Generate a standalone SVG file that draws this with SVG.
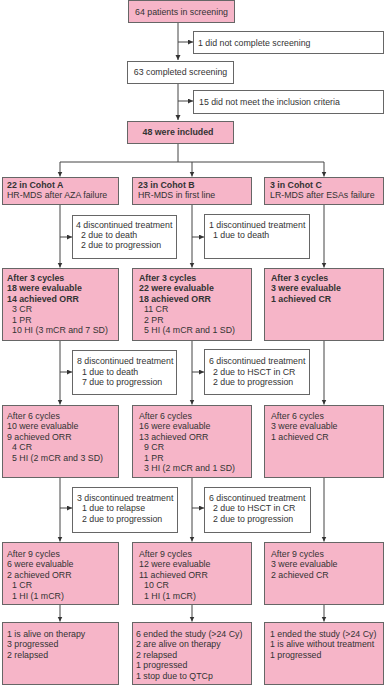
<svg xmlns="http://www.w3.org/2000/svg" width="385" height="685" viewBox="0 0 385 685">
<defs>
<marker id="ah" markerWidth="6" markerHeight="6" refX="5" refY="2.5" orient="auto" markerUnits="userSpaceOnUse"><path d="M0,0 L5,2.5 L0,5 z" fill="#333"/></marker>
<style>
.p{fill:#F6B5C8;stroke:#666;stroke-width:1}
.w{fill:#fff;stroke:#666;stroke-width:1}
text{font-family:"Liberation Sans",Arial,Helvetica,sans-serif;font-size:8.8px;fill:#333}
.b{font-weight:bold}
.c{text-anchor:middle}
.ln{fill:none;stroke:#444;stroke-width:1}
.ar{fill:none;stroke:#444;stroke-width:1;marker-end:url(#ah)}
</style>
</defs>
<rect width="385" height="685" fill="#fff"/>
<g id="connectors">
<path class="ar" d="M178,22.5 V60"/>
<path class="ar" d="M178,42 H193"/>
<path class="ar" d="M178,83.5 V120"/>
<path class="ar" d="M178,101 H193"/>
<path class="ln" d="M178,143.5 V162 M60,162 H324"/>
<path class="ar" d="M60,162 V176.5"/>
<path class="ar" d="M192,162 V176.5"/>
<path class="ar" d="M324,162 V176.5"/>
<path class="ar" d="M60,204.5 V267.5"/>
<path class="ar" d="M60,237 H72"/>
<path class="ar" d="M192,204.5 V267.5"/>
<path class="ar" d="M192,237 H204"/>
<path class="ar" d="M324,204.5 V267.5"/>
<path class="ar" d="M60,340.5 V404.5"/>
<path class="ar" d="M60,372 H72"/>
<path class="ar" d="M192,340.5 V404.5"/>
<path class="ar" d="M192,372 H204"/>
<path class="ar" d="M324,340.5 V404.5"/>
<path class="ar" d="M60,477.5 V541.5"/>
<path class="ar" d="M60,508 H72"/>
<path class="ar" d="M192,477.5 V541.5"/>
<path class="ar" d="M192,508 H204"/>
<path class="ar" d="M324,477.5 V541.5"/>
<path class="ar" d="M60,604.5 V621.5"/>
<path class="ar" d="M192,604.5 V621.5"/>
<path class="ar" d="M324,604.5 V621.5"/>
</g>
<g id="screening"><rect class="p" x="128.5" y="0.5" width="106" height="22"/><text class="c" x="181.5" y="14.5">64 patients in screening</text></g>
<g id="notcomplete"><rect class="w" x="193.5" y="31.5" width="190" height="22"/><text x="198" y="45.5">1 did not complete screening</text></g>
<g id="completed"><rect class="w" x="127.5" y="61.5" width="106" height="22"/><text class="c" x="180.5" y="74.5">63 completed screening</text></g>
<g id="notmeet"><rect class="w" x="193.5" y="90.5" width="190" height="23"/><text x="199" y="104.5">15 did not meet the inclusion criteria</text></g>
<g id="included"><rect class="p" x="127.5" y="121.5" width="106" height="22"/><text class="c b" x="178" y="135">48 were included</text></g>

<g id="cohortA"><rect class="p" x="2.5" y="177.5" width="116" height="27"/><text class="b" x="7" y="187.5">22 in Cohot A</text><text x="7" y="198">HR-MDS after AZA failure</text></g>
<g id="cohortB"><rect class="p" x="132.5" y="177.5" width="119" height="27"/><text class="b" x="138" y="187.5">23 in Cohot B</text><text x="138" y="198">HR-MDS in first line</text></g>
<g id="cohortC"><rect class="p" x="264.5" y="177.5" width="119" height="27"/><text class="b" x="270" y="187.5">3 in Cohot C</text><text x="270" y="198">LR-MDS after ESAs failure</text></g>

<g id="discA1"><rect class="w" x="72.5" y="215.5" width="104" height="43"/><text x="76" y="227.5">4 discontinued treatment</text><text x="81" y="238">2 due to death</text><text x="81" y="248.4">2 due to progression</text></g>
<g id="discB1"><rect class="w" x="204.5" y="214.5" width="105" height="44"/><text x="209" y="227.5">1 discontinued treatment</text><text x="213" y="238">1 due to death</text></g>

<g id="a3"><rect class="p" x="2.5" y="268.5" width="116" height="72"/><text class="b" x="7" y="281">After 3 cycles</text><text class="b" x="7" y="291.4">18 were evaluable</text><text class="b" x="7" y="301.8">14 achieved ORR</text><text x="12" y="312.2">3 CR</text><text x="12" y="322.6">1 PR</text><text x="12" y="333">10 HI (3 mCR and 7 SD)</text></g>
<g id="b3"><rect class="p" x="132.5" y="268.5" width="119" height="72"/><text class="b" x="139" y="281">After 3 cycles</text><text class="b" x="139" y="291.4">22 were evaluable</text><text class="b" x="139" y="301.8">18 achieved ORR</text><text x="144" y="312.2">11 CR</text><text x="144" y="322.6">2 PR</text><text x="144" y="333">5 HI (4 mCR and 1 SD)</text></g>
<g id="c3"><rect class="p" x="264.5" y="268.5" width="119" height="72"/><text class="b" x="271" y="281">After 3 cycles</text><text class="b" x="271" y="291.4">3 were evaluable</text><text class="b" x="271" y="301.8">1 achieved CR</text></g>

<g id="discA2"><rect class="w" x="72.5" y="350.5" width="104" height="44"/><text x="77" y="364">8 discontinued treatment</text><text x="82" y="374.6">1 due to death</text><text x="82" y="385">7 due to progression</text></g>
<g id="discB2"><rect class="w" x="204.5" y="349.5" width="105" height="45"/><text x="209" y="364">6 discontinued treatment</text><text x="213" y="374.6">2 due to HSCT in CR</text><text x="213" y="385">2 due to progression</text></g>

<g id="a6"><rect class="p" x="2.5" y="405.5" width="116" height="72"/><text x="7" y="419">After 6 cycles</text><text x="7" y="429.4">10 were evaluable</text><text x="7" y="439.8">9 achieved ORR</text><text x="12" y="450.2">4 CR</text><text x="12" y="460.6">5 HI (2 mCR and 3 SD)</text></g>
<g id="b6"><rect class="p" x="132.5" y="405.5" width="119" height="72"/><text x="139" y="419">After 6 cycles</text><text x="139" y="429.4">16 were evaluable</text><text x="139" y="439.8">13 achieved ORR</text><text x="144" y="450.2">9 CR</text><text x="144" y="460.6">1 PR</text><text x="144" y="471">3 HI (2 mCR and 1 SD)</text></g>
<g id="c6"><rect class="p" x="264.5" y="405.5" width="119" height="72"/><text x="271" y="419">After 6 cycles</text><text x="271" y="429.4">3 were evaluable</text><text x="271" y="439.8">1 achieved CR</text></g>

<g id="discA3"><rect class="w" x="72.5" y="487.5" width="105" height="45"/><text x="77" y="501">3 discontinued treatment</text><text x="82" y="511.4">1 due to relapse</text><text x="82" y="521.8">2 due to progression</text></g>
<g id="discB3"><rect class="w" x="204.5" y="487.5" width="106" height="45"/><text x="209" y="501">6 discontinued treatment</text><text x="213" y="511.4">2 due to HSCT in CR</text><text x="213" y="521.8">2 due to progression</text></g>

<g id="a9"><rect class="p" x="2.5" y="542.5" width="116" height="62"/><text x="7" y="557">After 9 cycles</text><text x="7" y="567.4">6 were evaluable</text><text x="7" y="577.8">2 achieved ORR</text><text x="12" y="588.2">1 CR</text><text x="12" y="598.6">1 HI (1 mCR)</text></g>
<g id="b9"><rect class="p" x="132.5" y="542.5" width="119" height="62"/><text x="139" y="557">After 9 cycles</text><text x="139" y="567.4">12 were evaluable</text><text x="139" y="577.8">11 achieved ORR</text><text x="144" y="588.2">10 CR</text><text x="144" y="598.6">1 HI (1 mCR)</text></g>
<g id="c9"><rect class="p" x="264.5" y="542.5" width="119" height="62"/><text x="271" y="557">After 9 cycles</text><text x="271" y="567.4">3 were evaluable</text><text x="271" y="577.8">2 achieved CR</text></g>

<g id="aEnd"><rect class="p" x="2.5" y="622.5" width="116" height="62"/><text x="7" y="637">1 is alive on therapy</text><text x="7" y="647.4">3 progressed</text><text x="7" y="657.8">2 relapsed</text></g>
<g id="bEnd"><rect class="p" x="132.5" y="622.5" width="119" height="62"/><text x="136" y="637">6 ended the study (&gt;24 Cy)</text><text x="136" y="647.4">2 are alive on therapy</text><text x="136" y="657.8">2 relapsed</text><text x="136" y="668.2">1 progressed</text><text x="136" y="678.6">1 stop due to QTCp</text></g>
<g id="cEnd"><rect class="p" x="264.5" y="622.5" width="119" height="62"/><text x="270" y="637">1 ended the study (&gt;24 Cy)</text><text x="270" y="647.4">1 is alive without treatment</text><text x="270" y="657.8">1 progressed</text></g>
</svg>
